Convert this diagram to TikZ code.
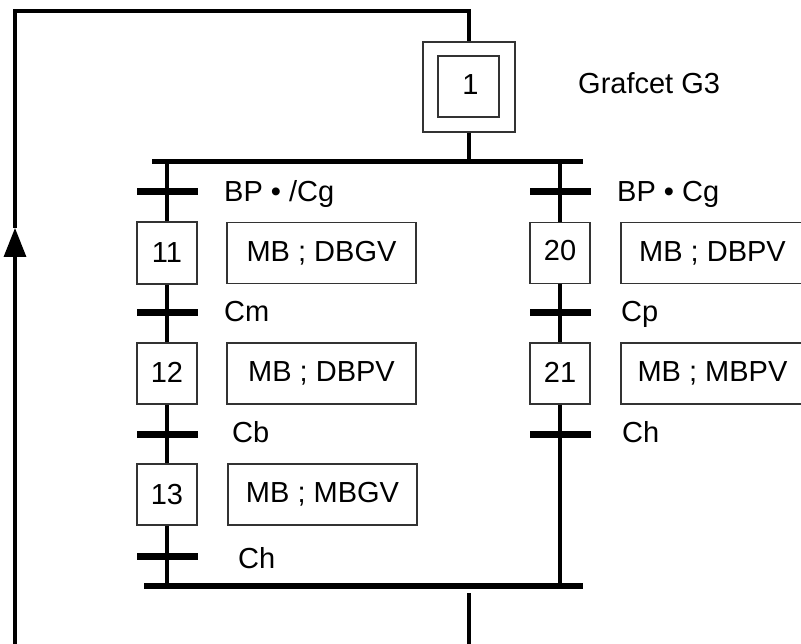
\documentclass[tikz,border=0pt]{standalone}
\usepackage{fontspec}
\setmainfont{Liberation Sans}
\usetikzlibrary{arrows.meta}
\begin{document}
\begin{tikzpicture}[x=1pt,y=-1pt,
  txt/.style={font=\fontsize{29}{34}\selectfont},
  stepbox/.style={txt, draw=black!80, line width=1.2pt, minimum width=60pt, minimum height=61pt, inner sep=0pt},
  actbox/.style={txt, draw=black!80, line width=1.2pt, minimum height=61pt, inner sep=0pt},
  trans/.style={fill=black, minimum width=61pt, minimum height=7pt, inner sep=0pt},
  lbl/.style={txt, anchor=base west, inner sep=0pt},
  link/.style={line width=3.6pt}]
\useasboundingbox (0,0) rectangle (801,644);
\clip (0,0) rectangle (801,644);

% initial step
\node[draw=black!80, line width=1.2pt, minimum width=92pt, minimum height=90pt, inner sep=0pt] (s1o) at (469,87) {};
\node[stepbox, minimum width=61pt] (s1) at (468.5,86.5) {\raisebox{3pt}{\hspace{4pt}1}};
\node[lbl] (title) at (578,93.5) {Grafcet G3};

% left branch steps and actions
\node[stepbox, minimum height=62pt] (s11) at (167,253) {\raisebox{-4pt}{11}};
\node[actbox, minimum width=189pt] (a11) at (321.5,253) {\raisebox{3pt}{MB ; DBGV}};
\node[stepbox] (s12) at (167,373.5) {\raisebox{2pt}{12}};
\node[actbox, minimum width=189pt] (a12) at (321.5,373.5) {\raisebox{3pt}{MB ; DBPV}};
\node[stepbox] (s13) at (167,494.5) {\raisebox{-3.5pt}{13}};
\node[actbox, minimum width=189pt] (a13) at (322.5,494.5) {\raisebox{2.5pt}{MB ; MBGV}};

% right branch steps and actions
\node[stepbox] (s20) at (560,253) {\raisebox{5pt}{20}};
\node[actbox, minimum width=183pt] (a20) at (712.5,253) {\raisebox{3pt}{MB ; DBPV}};
\node[stepbox] (s21) at (560,373.5) {\raisebox{3pt}{21}};
\node[actbox, minimum width=183pt] (a21) at (712.5,373.5) {\raisebox{2pt}{MB ; MBPV}};

% divergence / convergence bars
\coordinate (tbL) at (152,162);
\coordinate (tbR) at (583,162);
\coordinate (bbL) at (144,586);
\coordinate (bbR) at (583,586);
\draw[line width=5pt] (tbL) -- (tbR);
\draw[line width=6pt] (bbL) -- (bbR);

% links
\draw[link] (s1o.south) -- (s1o.south |- tbL);
\draw[link] (s11.north |- tbL) -- (s11.north);
\draw[link] (s11.south) -- (s12.north);
\draw[link] (s12.south) -- (s13.north);
\draw[link] (s13.south) -- (s13.south |- bbL);
\draw[link] (s20.north |- tbL) -- (s20.north);
\draw[link] (s20.south) -- (s21.north);
\draw[link] (s21.south) -- (s21.south |- bbL);

% return loop
\coordinate (out) at (469,593);
\coordinate (outE) at (469,650);
\coordinate (lb) at (15,650);
\coordinate (tip) at (15,228);
\coordinate (lt) at (15,11);
\draw[link] (out) -- (outE);
\draw[line width=3.4pt, -{Triangle[length=29pt,width=22pt]}] (lb) -- (tip);
\draw[line width=3.6pt, line join=miter] (tip) -- (lt) -- (lt -| s1o.north) -- (s1o.north);

% transitions
\node[trans] (t1) at (167,192) {};
\node[trans] (t2) at (167,313) {};
\node[trans] (t3) at (167,434) {};
\node[trans] (t4) at (167,556) {};
\node[trans] (t5) at (560,192) {};
\node[trans] (t6) at (560,313) {};
\node[trans] (t7) at (560,434) {};

% receptivities
\node[lbl] (r1) at (224,201.5) {BP • /Cg};
\node[lbl] (r2) at (224,321.5) {Cm};
\node[lbl] (r3) at (232,442.5) {Cb};
\node[lbl] (r4) at (238,568.5) {Ch};
\node[lbl] (r5) at (617,201.5) {BP • Cg};
\node[lbl] (r6) at (621,321.5) {Cp};
\node[lbl] (r7) at (622,442.5) {Ch};
\end{tikzpicture}
\end{document}
